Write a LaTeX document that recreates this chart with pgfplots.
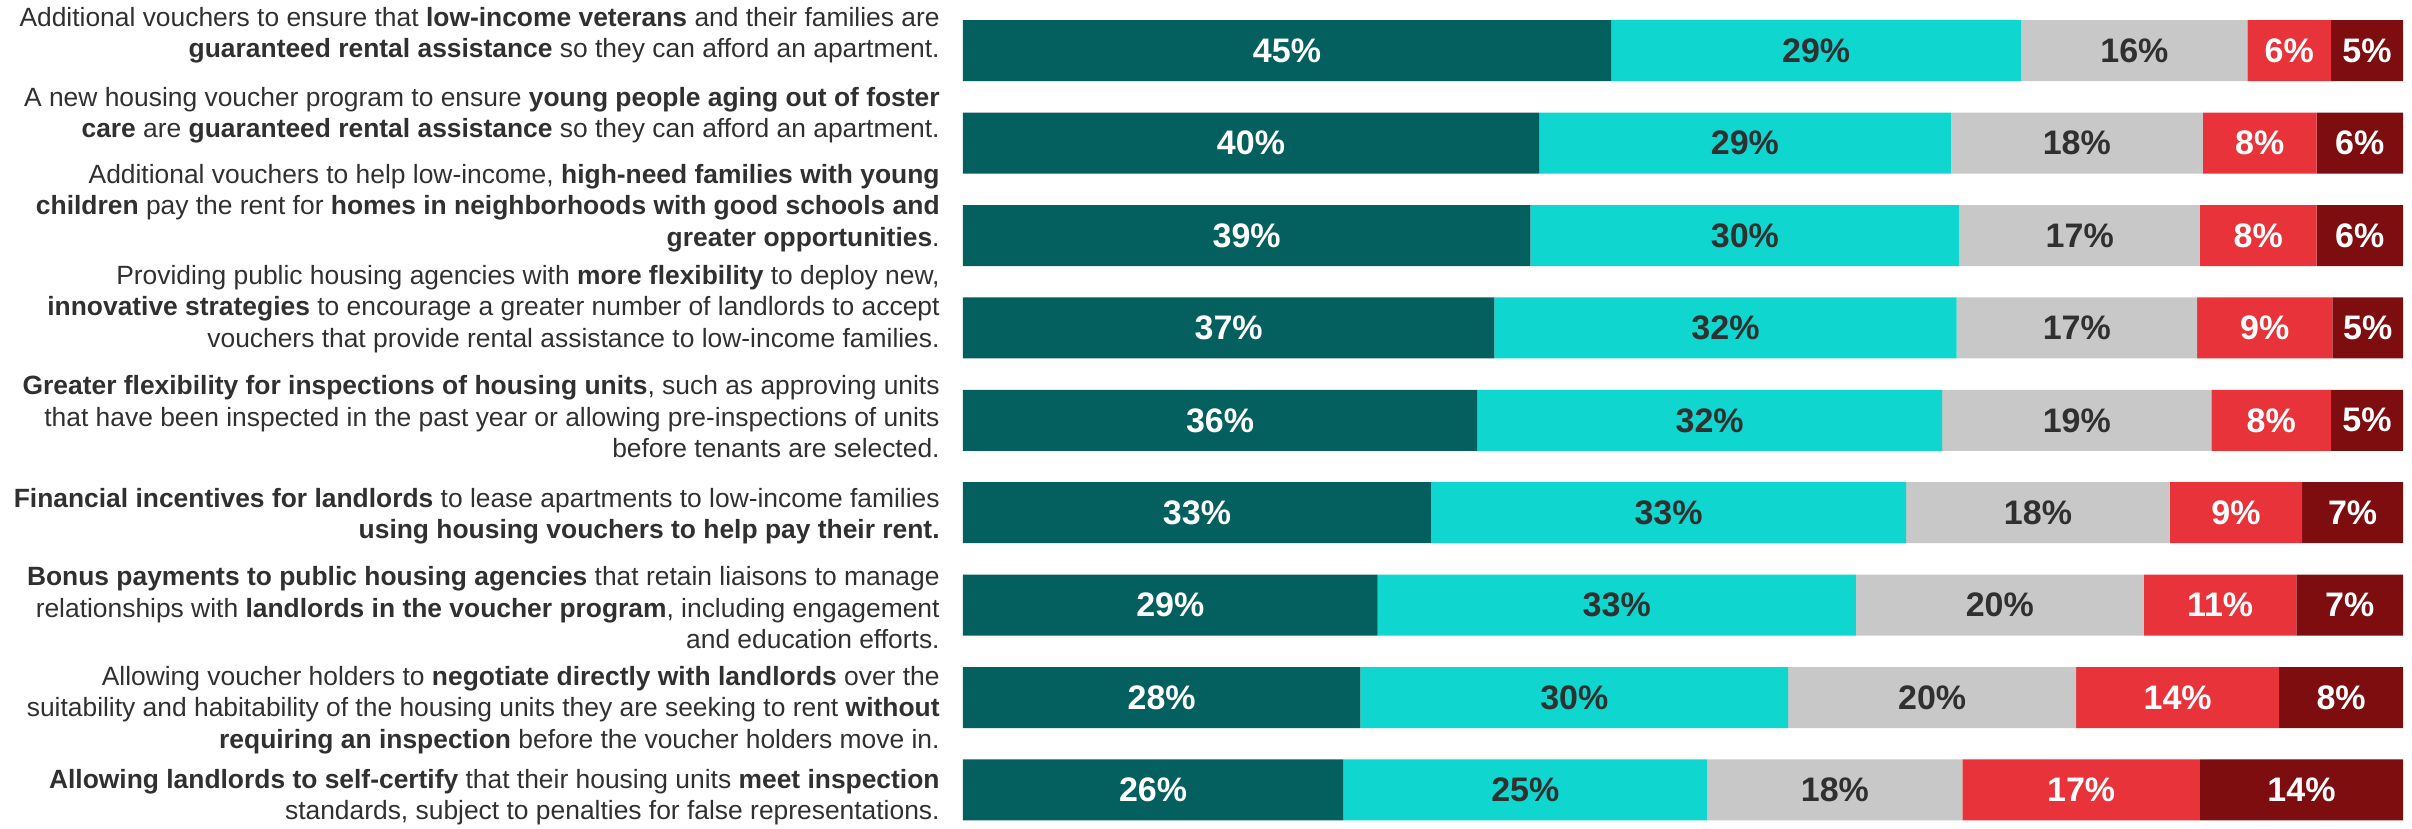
\documentclass[border=0pt]{standalone}
\usepackage{fontspec}
\setmainfont{Liberation Sans}
\usepackage{pgfplots}
\pgfplotsset{compat=1.18}
\definecolor{cA}{HTML}{03605F}
\definecolor{cB}{HTML}{0FD6CF}
\definecolor{cC}{HTML}{C8C8C8}
\definecolor{cD}{HTML}{E8333A}
\definecolor{cE}{HTML}{7E0D10}
\definecolor{txt}{HTML}{303030}

\begin{document}
\begin{tikzpicture}
\begin{axis}[
  scale only axis,
  width=720pt, height=414pt,
  xbar stacked,
  bar width=0.66,
  xmin=0, xmax=100,
  ymin=0.4513, ymax=9.412,
  y dir=reverse,
  clip=false,
  axis line style={draw=none},
  xtick=\empty,
  major tick length=0pt,
  ytick style={draw=none},
  ytick={0.830,1.696,2.702,3.795,4.964,6.036,7.031,8.135,9.077},
  yticklabels={
    {Additional vouchers to ensure that \textbf{low-income veterans} and their families are\\ \textbf{guaranteed rental assistance} so they can afford an apartment.},
    {A new housing voucher program to ensure \textbf{young people aging out of foster}\\ \textbf{care} are \textbf{guaranteed rental assistance} so they can afford an apartment.},
    {Additional vouchers to help low-income, \textbf{high-need families with young}\\ \textbf{children} pay the rent for \textbf{homes in neighborhoods with good schools and}\\ \textbf{greater opportunities}.},
    {Providing public housing agencies with \textbf{more flexibility} to deploy new,\\ \textbf{innovative strategies} to encourage a greater number of landlords to accept\\ vouchers that provide rental assistance to low-income families.},
    {\textbf{Greater flexibility for inspections of housing units}, such as approving units\\ that have been inspected in the past year or allowing pre-inspections of units\\ before tenants are selected.},
    {\textbf{Financial incentives for landlords} to lease apartments to low-income families\\ \textbf{using housing vouchers to help pay their rent.}},
    {\textbf{Bonus payments to public housing agencies} that retain liaisons to manage\\ relationships with \textbf{landlords in the voucher program}, including engagement\\ and education efforts.},
    {Allowing voucher holders to \textbf{negotiate directly with landlords} over the\\ suitability and habitability of the housing units they are seeking to rent \textbf{without}\\ \textbf{requiring an inspection} before the voucher holders move in.},
    {\textbf{Allowing landlords to self-certify} that their housing units \textbf{meet inspection}\\ standards, subject to penalties for false representations.}
  },
  yticklabel style={align=right, anchor=east, inner sep=0pt, text=txt,
    font={\fontsize{13.2}{15.75}\selectfont}},
  yticklabel shift=11.5pt,
  every axis plot/.append style={draw=none},
  nodes near coords,
  point meta=explicit symbolic,
  every node near coord/.append style={font={\fontsize{17}{20}\selectfont\bfseries}},
]

\addplot[fill=cA, every node near coord/.append style={text=white}] coordinates {
  (45.0,1)[45\%] (40.0,2)[40\%] (39.4,3)[39\%] (36.9,4)[37\%] (35.7,5)[36\%]
  (32.5,6)[33\%] (28.8,7)[29\%] (27.6,8)[28\%] (26.4,9)[26\%]};
\addplot[fill=cB, every node near coord/.append style={text=txt}] coordinates {
  (28.5,1)[29\%] (28.6,2)[29\%] (29.8,3)[30\%] (32.1,4)[32\%] (32.3,5)[32\%]
  (33.0,6)[33\%] (33.2,7)[33\%] (29.7,8)[30\%] (25.3,9)[25\%]};
\addplot[fill=cC, every node near coord/.append style={text=txt}] coordinates {
  (15.7,1)[16\%] (17.5,2)[18\%] (16.7,3)[17\%] (16.7,4)[17\%] (18.7,5)[19\%]
  (18.3,6)[18\%] (20.0,7)[20\%] (20.0,8)[20\%] (17.7,9)[18\%]};
\addplot[fill=cD, every node near coord/.append style={text=white}] coordinates {
  (5.8,1)[6\%] (7.9,2)[8\%] (8.1,3)[8\%] (9.4,4)[9\%] (8.3,5)[8\%]
  (9.2,6)[9\%] (10.6,7)[11\%] (14.1,8)[14\%] (16.5,9)[17\%]};
\addplot[fill=cE, every node near coord/.append style={text=white}] coordinates {
  (5.0,1)[5\%] (6.0,2)[6\%] (6.0,3)[6\%] (4.9,4)[5\%] (5.0,5)[5\%]
  (7.0,6)[7\%] (7.4,7)[7\%] (8.6,8)[8\%] (14.1,9)[14\%]};
\end{axis}
\pgfresetboundingbox
\path ([xshift=-481.5pt]current axis.south west) rectangle ([xshift=4.5pt]current axis.north east);
\end{tikzpicture}
\end{document}
